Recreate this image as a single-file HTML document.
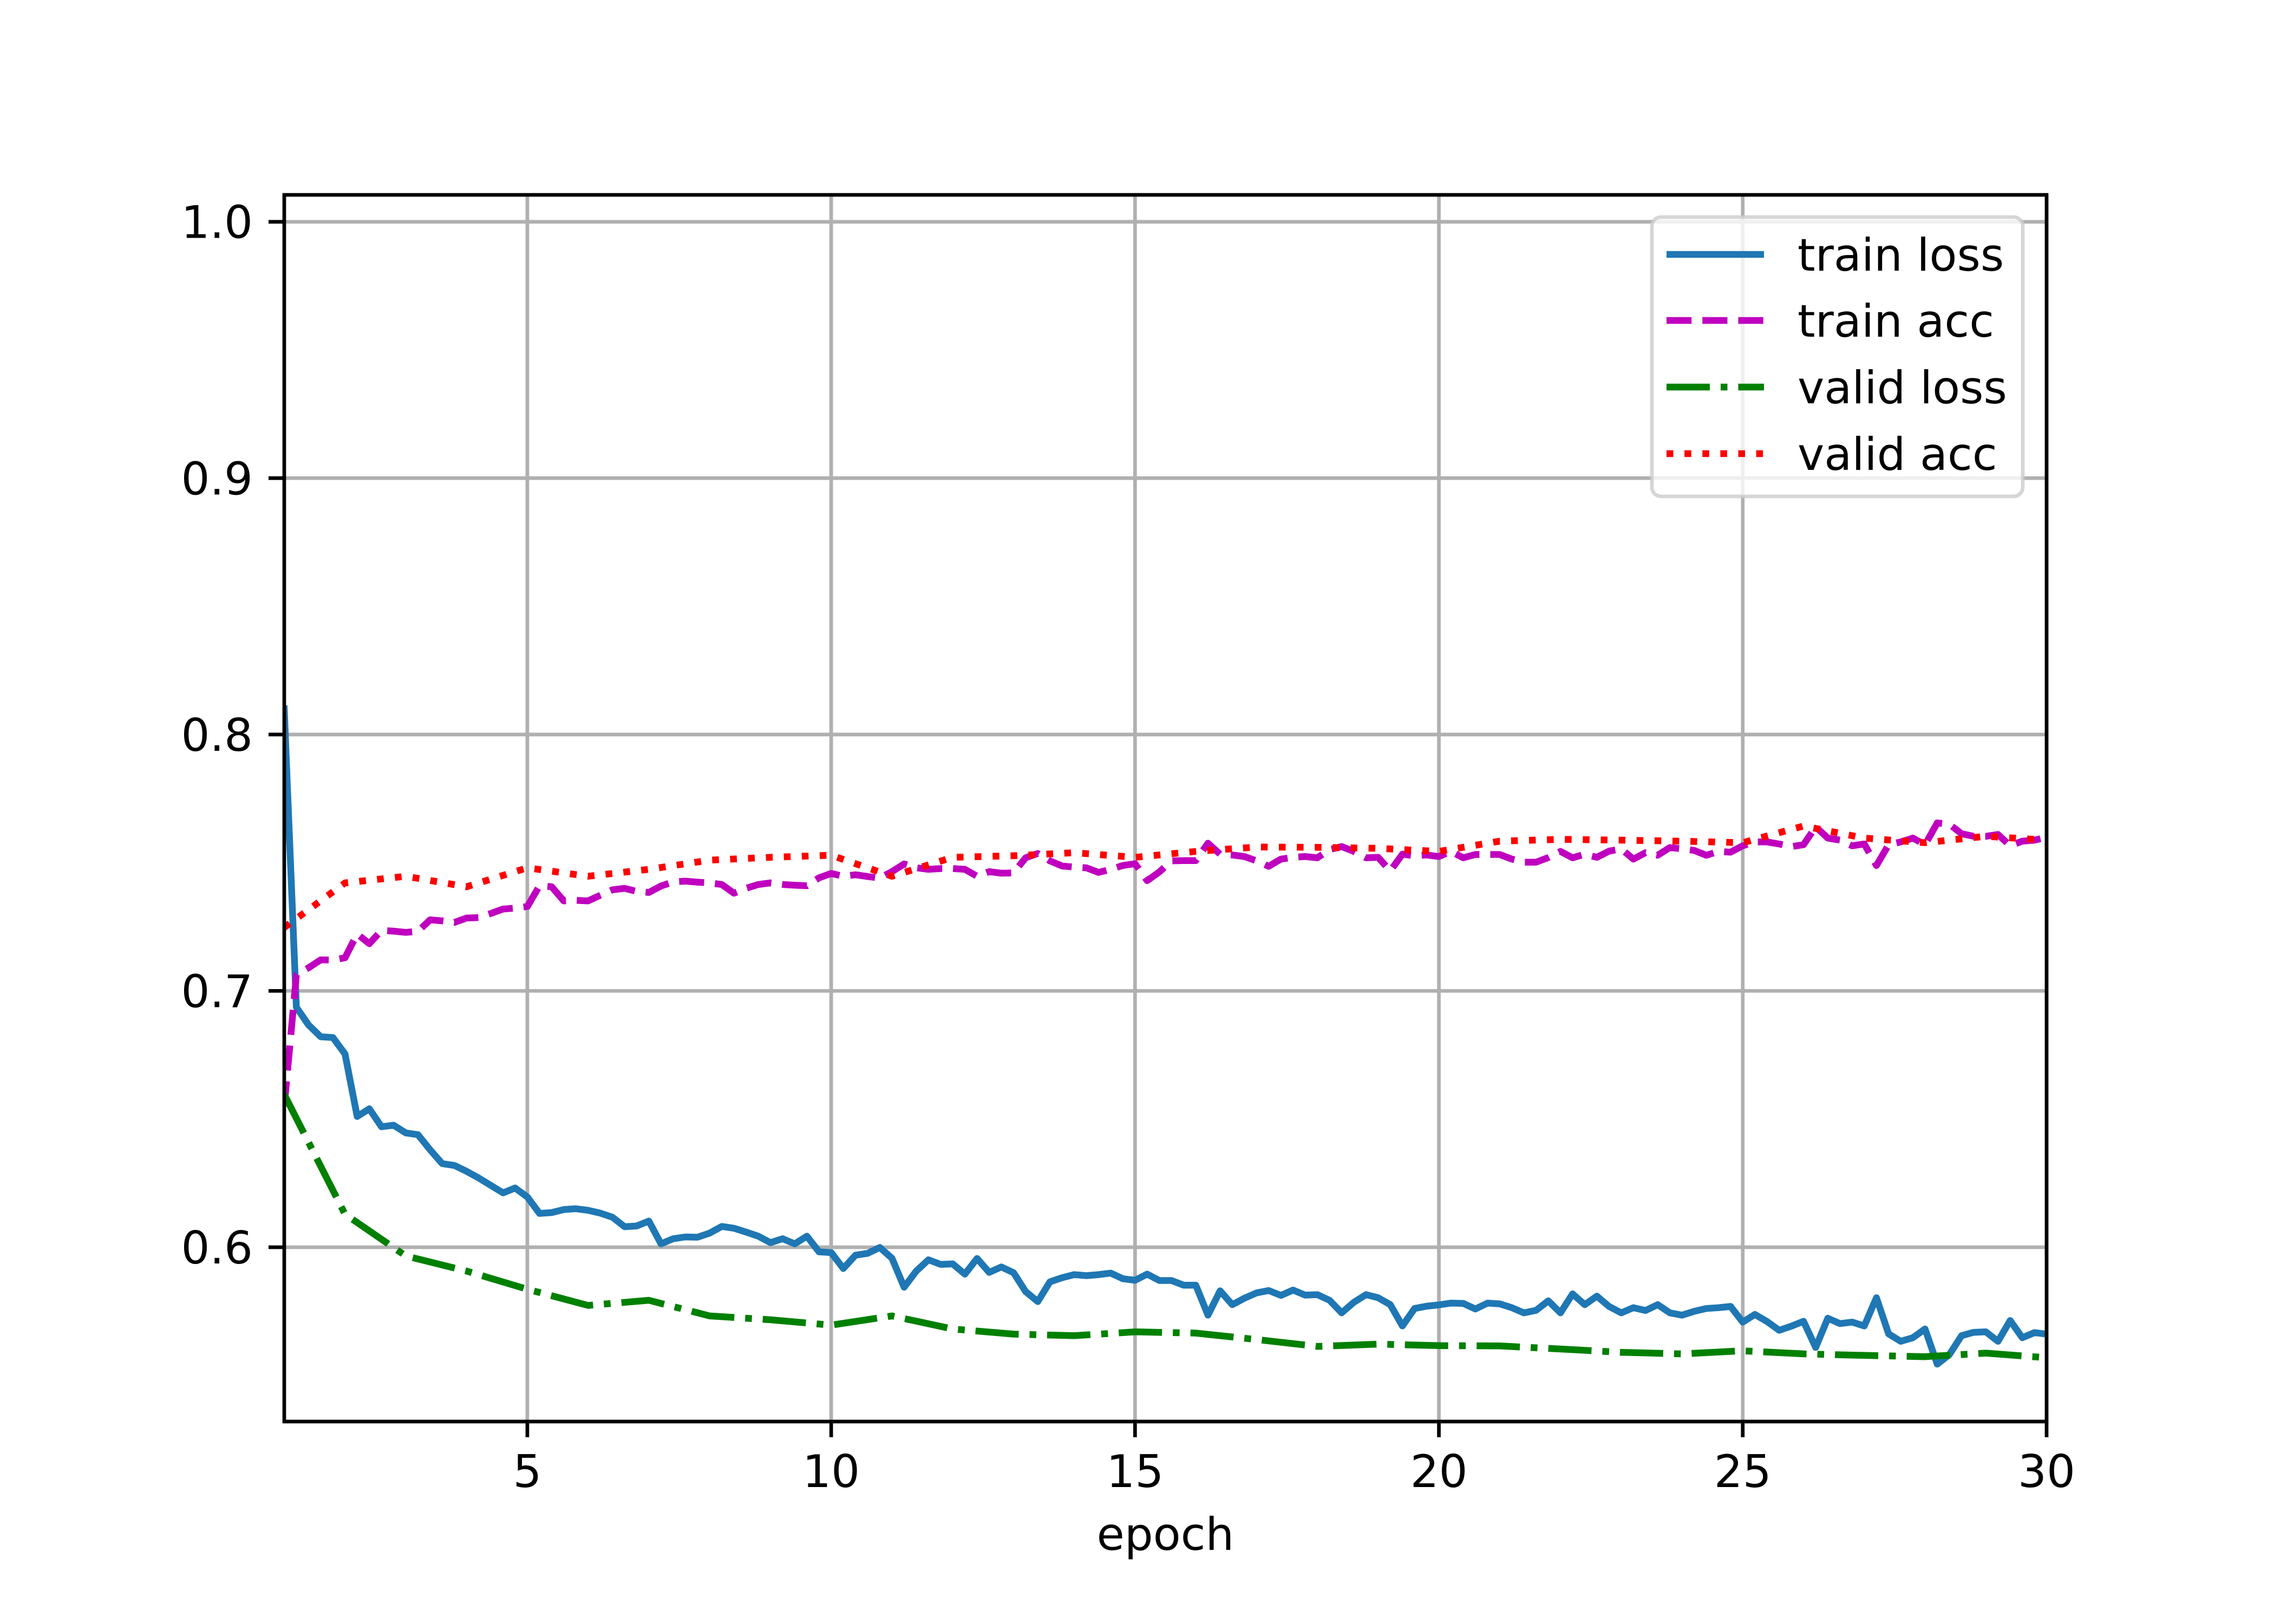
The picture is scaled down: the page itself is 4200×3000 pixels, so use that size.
<!DOCTYPE html>
<html>
<head>
<meta charset="utf-8">
<style>
  html, body { margin: 0; padding: 0; background: #ffffff; }
  svg { display: block; }
  text { font-family: "DejaVu Sans", "Liberation Sans", sans-serif; fill: #000; }
</style>
</head>
<body>
<svg id="chart" width="4200" height="3000" viewBox="0 0 4200 3000" xmlns="http://www.w3.org/2000/svg">
  <rect x="0" y="0" width="4200" height="3000" fill="#ffffff"/>
  <defs>
    <clipPath id="plotClip"><rect x="525" y="360" width="3255" height="2266"/></clipPath>
  </defs>
  <g id="grid"></g>
  <g id="series" clip-path="url(#plotClip)"></g>
  <g id="axes"></g>
  <g id="legend"></g>
</svg>
<script>
// ---- data ----
const xTicks = [5, 10, 15, 20, 25, 30];
const yTicks = [0.6, 0.7, 0.8, 0.9, 1.0];
const yTickLabels = ["0.6", "0.7", "0.8", "0.9", "1.0"];
const xLabel = "epoch";
const batchesPerEpoch = 5;
const firstEpoch = 1;
const trainLoss = [0.81,
  0.6936,0.6867,0.6821,0.6818,0.6754,
  0.651,0.654,0.647,0.6476,0.6446,
  0.6439,0.638,0.6326,0.6319,0.6296,
  0.627,0.6241,0.6212,0.6231,0.6196,
  0.6132,0.6135,0.6147,0.615,0.6144,
  0.6133,0.6117,0.608,0.6083,0.6102,
  0.6013,0.6033,0.604,0.6039,0.6055,
  0.6081,0.6074,0.6059,0.6043,0.6018,
  0.6033,0.6013,0.6043,0.5982,0.5979,
  0.5917,0.5969,0.5976,0.5999,0.5957,
  0.5844,0.5907,0.5951,0.5933,0.5935,
  0.5895,0.5956,0.5902,0.5923,0.5901,
  0.5827,0.5788,0.5865,0.5881,0.5893,
  0.5889,0.5893,0.5899,0.5877,0.5871,
  0.5895,0.587,0.587,0.5852,0.5852,
  0.5735,0.583,0.5776,0.5801,0.5822,
  0.5831,0.5812,0.5833,0.5813,0.5815,
  0.5793,0.5744,0.5785,0.5815,0.5803,
  0.5776,0.5693,0.5761,0.577,0.5775,
  0.5782,0.5781,0.5759,0.5782,0.5779,
  0.5764,0.5744,0.5754,0.5791,0.5744,
  0.5818,0.5776,0.5809,0.5769,0.5744,
  0.5764,0.5753,0.5776,0.5744,0.5735,
  0.575,0.5761,0.5764,0.5769,0.5708,
  0.5738,0.571,0.5676,0.5692,0.5711,
  0.5609,0.5723,0.5702,0.5708,0.5693,
  0.5803,0.5662,0.5633,0.5647,0.5681,
  0.5544,0.5581,0.5655,0.5668,0.567,
  0.5633,0.5714,0.5647,0.5667,0.5661];
const trainAcc = [0.655,
  0.7062,0.709,0.7121,0.712,0.7129,
  0.7222,0.7184,0.7236,0.7233,0.7228,
  0.7232,0.7277,0.7273,0.7267,0.7284,
  0.7286,0.7302,0.7319,0.7323,0.7329,
  0.741,0.7406,0.7351,0.7353,0.7351,
  0.7373,0.7394,0.74,0.7388,0.7384,
  0.7409,0.7425,0.7428,0.7424,0.7421,
  0.7415,0.7381,0.74,0.7415,0.7421,
  0.7415,0.7412,0.741,0.7441,0.7458,
  0.7447,0.7453,0.7446,0.744,0.7465,
  0.7495,0.748,0.7474,0.7477,0.7477,
  0.7474,0.7447,0.7465,0.7459,0.746,
  0.7519,0.7536,0.7507,0.7487,0.7483,
  0.748,0.7462,0.7474,0.7489,0.7496,
  0.743,0.7464,0.7507,0.7508,0.7508,
  0.7576,0.7533,0.753,0.7524,0.7507,
  0.7486,0.7514,0.7521,0.7524,0.7519,
  0.7551,0.7563,0.7544,0.7519,0.7521,
  0.7468,0.7533,0.7527,0.753,0.7524,
  0.7544,0.7519,0.7532,0.7532,0.7532,
  0.7514,0.7502,0.7502,0.752,0.7544,
  0.7519,0.7533,0.7521,0.7545,0.7554,
  0.7514,0.7539,0.7529,0.7559,0.7554,
  0.7548,0.7529,0.7544,0.7541,0.7566,
  0.7581,0.7581,0.7573,0.7563,0.757,
  0.764,0.7596,0.7588,0.7566,0.7573,
  0.7489,0.757,0.7581,0.7596,0.757,
  0.7655,0.765,0.7613,0.7603,0.7603,
  0.761,0.7566,0.7584,0.7588,0.7599];
const validEpochs = [1,2,3,4,5,6,7,8,9,10,11,12,13,14,15,16,17,18,19,20,21,22,23,24,25,26,27,28,29,30];
const validLoss = [0.6596,0.6129,0.5966,0.5907,0.5836,0.5773,0.5793,0.5732,0.5717,0.5696,
  0.5732,0.5681,0.5661,0.5655,0.567,0.5665,0.564,0.5613,0.5622,0.5616,
  0.5615,0.5603,0.559,0.5584,0.5596,0.5584,0.5578,0.5573,0.5587,0.5569];
const validAcc = [0.7247,0.7421,0.7447,0.7406,0.748,0.7447,0.7474,0.751,0.7521,0.7529,
  0.7447,0.7521,0.7527,0.7539,0.7521,0.7544,0.7561,0.756,0.7556,0.7544,
  0.7584,0.7591,0.7588,0.7584,0.7578,0.7643,0.7596,0.7578,0.7603,0.7588];
const legendLabels = ["train loss", "train acc", "valid loss", "valid acc"];

// ---- layout ----
const NS = "http://www.w3.org/2000/svg";
const L = 525, R = 3780, T = 360, B = 2626;
const xMin = 1, xMax = 30, yMin = 0.532, yMax = 1.0105;
function xs(v) { return L + (v - xMin) / (xMax - xMin) * (R - L); }
function ys(v) { return B - (v - yMin) / (yMax - yMin) * (B - T); }
function mk(tag, attrs, parent) {
  const e = document.createElementNS(NS, tag);
  for (const k in attrs) e.setAttribute(k, attrs[k]);
  parent.appendChild(e);
  return e;
}
const gGrid = document.getElementById('grid');
const gSeries = document.getElementById('series');
const gAxes = document.getElementById('axes');
const gLegend = document.getElementById('legend');
const LW = 12.5;

// grid
xTicks.forEach(t => {
  const ln = mk('line', {x1: xs(t), x2: xs(t), y1: T, y2: B, stroke: '#b0b0b0', 'stroke-width': 6.7}, gGrid);
  
  
});
yTicks.forEach(t => {
  const ln = mk('line', {x1: L, x2: R, y1: ys(t), y2: ys(t), stroke: '#b0b0b0', 'stroke-width': 6.7}, gGrid);
  
  
});

// series
function trainX(i) { return firstEpoch + i / batchesPerEpoch; }
function pathFrom(xsArr, vals) {
  return vals.map((v, i) => (i ? 'L' : 'M') + xs(xsArr(i)).toFixed(1) + ' ' + ys(v).toFixed(1)).join(' ');
}
const styles = [
  {color: '#1f77b4', dash: ''},
  {color: '#bf00bf', dash: (3.7*LW) + ' ' + (1.6*LW)},
  {color: '#008000', dash: (6.4*LW) + ' ' + (1.6*LW) + ' ' + LW + ' ' + (1.6*LW)},
  {color: '#ff0000', dash: LW + ' ' + (1.65*LW)}
];
const p1 = mk('path', {d: pathFrom(trainX, trainLoss), fill: 'none', stroke: styles[0].color, 'stroke-width': LW, 'stroke-linejoin': 'round', 'stroke-linecap': 'square'}, gSeries);


const p2 = mk('path', {d: pathFrom(trainX, trainAcc), fill: 'none', stroke: styles[1].color, 'stroke-width': LW, 'stroke-dasharray': styles[1].dash, 'stroke-linejoin': 'round'}, gSeries);


const p3 = mk('path', {d: pathFrom(i => validEpochs[i], validLoss), fill: 'none', stroke: styles[2].color, 'stroke-width': LW, 'stroke-dasharray': styles[2].dash, 'stroke-linejoin': 'round'}, gSeries);


const p4 = mk('path', {d: pathFrom(i => validEpochs[i], validAcc), fill: 'none', stroke: styles[3].color, 'stroke-width': LW, 'stroke-dasharray': styles[3].dash, 'stroke-linejoin': 'round'}, gSeries);



// axes frame
const frame = mk('rect', {x: L, y: T, width: R - L, height: B - T, fill: 'none', stroke: '#000', 'stroke-width': 6.7}, gAxes);



xTicks.forEach(t => {
  const tk = mk('line', {x1: xs(t), x2: xs(t), y1: B, y2: B + 29, stroke: '#000', 'stroke-width': 6.7}, gAxes);
  
  
  const tx = mk('text', {x: xs(t), y: 2747, 'font-size': 83.3, 'text-anchor': 'middle'}, gAxes);
  tx.textContent = String(t);
  
  
});
yTicks.forEach((t, i) => {
  const tk = mk('line', {x1: L - 29, x2: L, y1: ys(t), y2: ys(t), stroke: '#000', 'stroke-width': 6.7}, gAxes);
  
  
  const tx = mk('text', {x: 467, y: ys(t) + 30, 'font-size': 83.3, 'text-anchor': 'end'}, gAxes);
  tx.textContent = yTickLabels[i];
  
  
});
const xl = mk('text', {x: (L + R) / 2, y: 2863, 'font-size': 83.3, 'text-anchor': 'middle'}, gAxes);
xl.textContent = xLabel;



// legend
const box = mk('rect', {x: 3051, y: 401, width: 685, height: 516, rx: 17, ry: 17, fill: 'rgba(255,255,255,0.8)', stroke: 'rgba(204,204,204,0.8)', 'stroke-width': 6.7}, gLegend);


const entryY = [470, 592, 715, 838];
legendLabels.forEach((lab, i) => {
  const ln = mk('line', {x1: 3078, x2: 3258, y1: entryY[i], y2: entryY[i], stroke: styles[i].color, 'stroke-width': LW}, gLegend);
  if (styles[i].dash) ln.setAttribute('stroke-dasharray', styles[i].dash);
  
  
  const tx = mk('text', {x: 3320, y: entryY[i] + 30, 'font-size': 83.3}, gLegend);
  tx.textContent = lab;
  
  
});
</script>
</body>
</html>
